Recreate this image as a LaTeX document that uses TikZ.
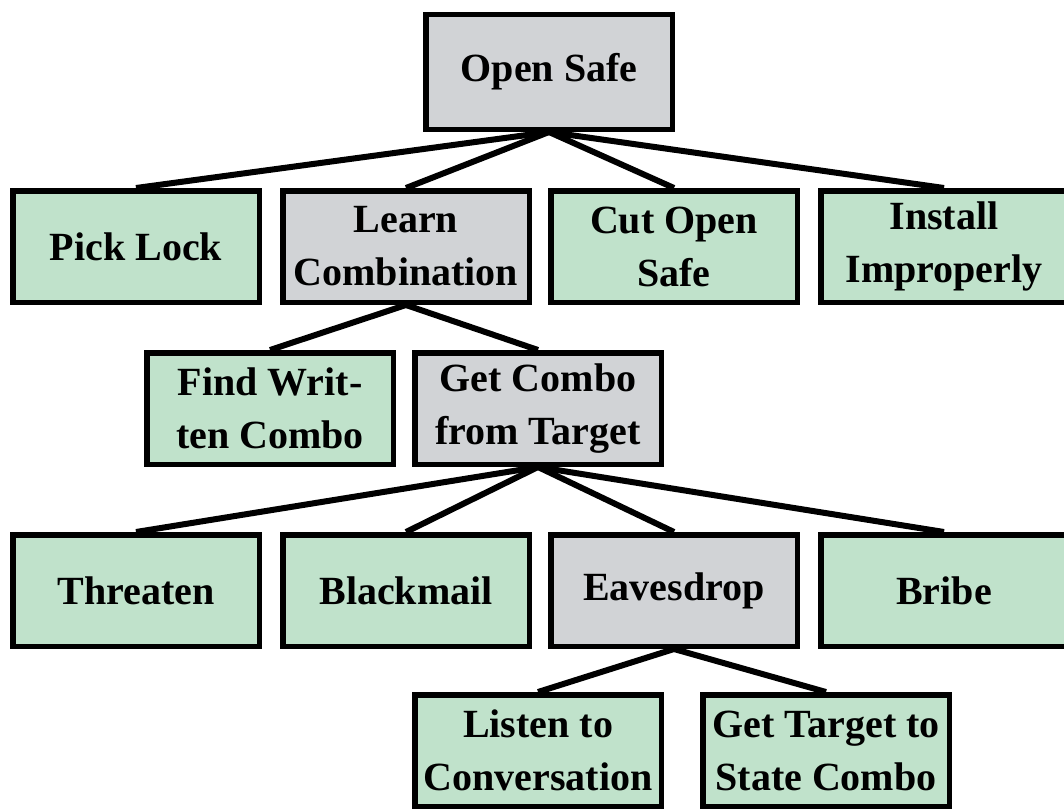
\documentclass[tikz,border=0pt]{standalone}
\usepackage{fontspec}
\setmainfont{Liberation Serif}
\definecolor{goalgray}{RGB}{209,211,214}
\definecolor{leafgreen}{RGB}{192,226,203}
\tikzset{
  box/.style={draw=black,line width=5.5pt,minimum width=246.5pt,minimum height=111.5pt,
    inner sep=2pt,align=center,font=\fontsize{40}{53}\selectfont\bfseries},
  goal/.style={box,fill=goalgray},
  leaf/.style={box,fill=leafgreen},
  edge/.style={line width=6pt}
}
\begin{document}
\begin{tikzpicture}[x=1pt,y=-1pt]
\useasboundingbox (0,0) rectangle (1064,808);
% root
\node[goal,minimum height=114.5pt] (opensafe) at (549,72) {Open Safe};
% second level
\node[leaf] (picklock) at (136,246.5) {Pick Lock};
\node[goal] (learn) at (406,246.5) {Learn\\Combination};
\node[leaf] (cutopen) at (674,246.5) {Cut Open\\Safe};
\node[leaf] (install) at (944,246.5) {Install\\Improperly};
% third level
\node[leaf] (findwritten) at (270,408.5) {Find Writ-\\ten Combo};
\node[goal] (getcombo) at (538,408.5) {Get Combo\\from Target};
% fourth level
\node[leaf] (threaten) at (136,590.5) {Threaten};
\node[leaf] (blackmail) at (406,590.5) {Blackmail};
\node[goal] (eavesdrop) at (674,590.5) {Eavesdrop};
\node[leaf] (bribe) at (944,590.5) {Bribe};
% fifth level
\node[leaf] (listen) at (538,750.5) {Listen to\\Conversation};
\node[leaf] (gettarget) at (826,750.5) {Get Target to\\State Combo};
% connectors
\foreach \c in {picklock,learn,cutopen,install}
  \draw[edge] (opensafe.south) -- (\c.north);
\foreach \c in {findwritten,getcombo}
  \draw[edge] (learn.south) -- (\c.north);
\foreach \c in {threaten,blackmail,eavesdrop,bribe}
  \draw[edge] (getcombo.south) -- (\c.north);
\foreach \c in {listen,gettarget}
  \draw[edge] (eavesdrop.south) -- (\c.north);
\end{tikzpicture}
\end{document}
